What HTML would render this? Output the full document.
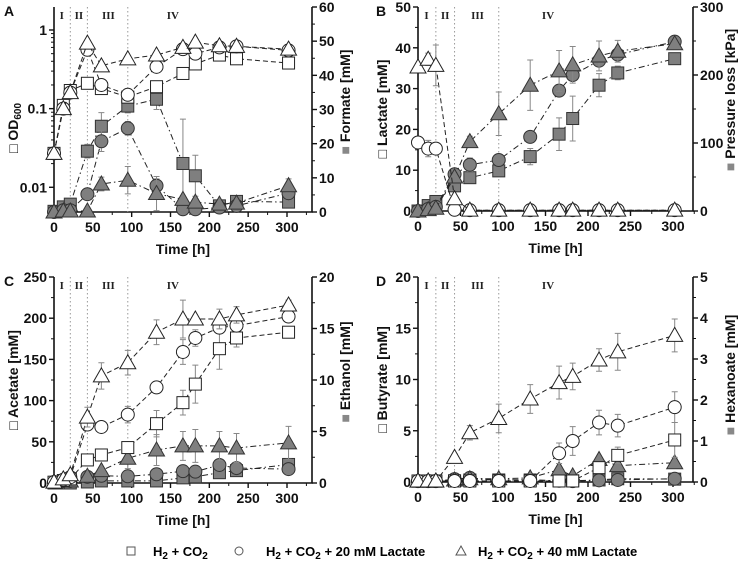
<!DOCTYPE html>
<html><head><meta charset="utf-8">
<style>
html,body{margin:0;padding:0;background:#fff;}
svg{display:block;font-family:"Liberation Sans",Arial,sans-serif;}
.tk{font-size:14px;font-weight:bold;fill:#111;}
.ttl{font-size:14px;font-weight:bold;fill:#111;}
.ph{font-family:"Liberation Serif",serif;font-size:11px;font-weight:bold;fill:#222;}
</style></head>
<body>
<svg id="fig" width="744" height="561" viewBox="0 0 744 561"></svg>
<script>
// ---- shared data ----
const times = [0,12,21,43,61,95,132,166,182,213,235,302];
const phaseBounds = [21,43,95];
const phaseLabels = ["I","II","III","IV"];
const phaseLabelTimes = [10,32,70,153];
const xTicks = [0,50,100,150,200,250,300];

// ---- Panel A: OD600 (log) and Formate ----
const aOdSq = [0.027,0.11,0.17,0.21,0.18,0.14,0.19,0.28,0.37,0.48,0.43,0.38];
const aOdCi = [0.027,0.10,0.16,0.56,0.20,0.15,0.34,0.57,0.50,0.60,0.62,0.55];
const aOdTr = [0.027,0.10,0.16,0.68,0.35,0.43,0.48,0.60,0.70,0.63,0.62,0.57];
const aFoSq = [0.2,1.5,2.3,17.8,25.1,31,33,14.2,10.6,1.8,3.1,2.9];
const aFoCi = [0,0.5,0.5,5.2,20.7,24.5,7.7,0.8,0.8,1.3,1.8,5.5];
const aFoTr = [0,0.3,0.3,0.3,8.2,9.3,5.4,3.7,2.9,2.3,2.6,7.7];
const aFoSqErr = [0,0.5,0.5,2,4,2,3,13,6,0.5,1,1];
const aFoCiErr = [0,0,0,1,3,2,2,0.3,0.3,0.5,0.5,1];
const aFoTrErr = [0,0,0,0,2,4,5,1,1,0.5,0.5,2];
const aTicksLeft = [0.01,0.1,1];
const aTicksRight = [0,10,20,30,40,50,60];

// ---- Panel B: Lactate and Pressure loss ----
const bLaCi = [16.8,15.3,15.3,0.3,0.2,0.2,0.2,0.2,0.2,0.2,0.2,0.2];
const bLaTr = [35.3,37.2,35.7,3,0.2,0.2,0.2,0.2,0.2,0.2,0.2,0.2];
const bLaTrErr = [0,1.5,5,0,0,0,0,0,0,0,0,0];
const bLaCiErr = [0,2,1,0,0,0,0,0,0,0,0,0];
const bPrSq = [0,8,14,37,49,59,80,113,136,185,203,224];
const bPrCi = [0,3,6,54,68,75,109,177,200,221,230,249];
const bPrTr = [0,2,4,50,102,143,185,206,215,228,235,246];
const bPrSqErr = [0,0,0,5,4,6,12,24,33,17,10,5];
const bPrCiErr = [0,0,0,5,10,8,8,4,5,8,6,3];
const bPrTrErr = [0,0,0,5,8,32,37,30,27,22,16,4];
const bTicksLeft = [0,10,20,30,40,50];
const bTicksRight = [0,100,200,300];

// ---- Panel C: Acetate and Ethanol ----
const cAcSq = [1,3,5,28,34,43,72,97.5,120,163,176,183];
const cAcCi = [1,4,7,71,68,83,116,159,176,188.5,191,202];
const cAcTr = [1,5,10,80,130,146,183,199,199,199,204,216];
const cAcSqErr = [0,0,0,4,5,6,16,15,23,25,11,4];
const cAcCiErr = [0,0,0,4,5,10,5,15,10,6,4,4];
const cAcTrErr = [0,0,0,12,16,15,15,23,4,12,10,6];
const cEtSq = [0,0,0,0.1,0.2,0.2,0.2,0.5,0.6,1.0,1.2,1.8];
const cEtCi = [0.1,0.2,0.2,0.6,0.7,0.65,0.85,1.15,1.1,1.75,1.45,1.35];
const cEtTr = [0.1,0.2,0.2,0.65,1.2,2.4,3.2,3.6,3.6,3.6,3.4,3.9];
const cEtTrErr = [0,0,0,0.2,0.3,1,1.5,1.4,1.6,1.4,1.4,1.6];
const cTicksLeft = [0,50,100,150,200,250];
const cTicksRight = [0,5,10,15,20];

// ---- Panel D: Butyrate and Hexanoate ----
const dBuSq = [0.1,0.1,0.1,0.1,0.1,0.1,0.1,0.1,0.1,1.4,2.6,4.1];
const dBuCi = [0.1,0.1,0.1,0.1,0.1,0.1,0.1,2.8,4.0,5.8,5.5,7.3];
const dBuTr = [0.1,0.1,0.1,2.4,4.8,6.2,8.1,9.7,10.3,11.9,12.7,14.3];
const dBuSqErr = [0,0,0,0,0,0,0,0,0,0.4,0.8,1.7];
const dBuCiErr = [0,0,0,0,0,0,0,1,1.4,1.2,1.1,1.5];
const dBuTrErr = [0,0,0,0.3,0.7,1.4,1.4,1.6,1.3,1.1,1.8,1.6];
const dHxSq = [0.02,0.02,0.02,0.03,0.05,0.05,0.05,0.03,0.03,0.05,0.08,0.07];
const dHxCi = [0.02,0.02,0.02,0.07,0.1,0.05,0.05,0.03,0.02,0.04,0.05,0.08];
const dHxTr = [0.02,0.02,0.02,0.05,0.08,0.08,0.1,0.3,0.15,0.55,0.4,0.47];
const dTicksLeft = [0,5,10,15,20];
const dTicksRight = [0,1,2,3,4,5];

const NS = "http://www.w3.org/2000/svg";
const svg = document.getElementById("fig");
function mk(tag, attrs, parent){
  const e = document.createElementNS(NS, tag);
  for (const k in attrs) e.setAttribute(k, attrs[k]);
  (parent||svg).appendChild(e);
  return e;
}

function marker(g, shape, x, y, filled){
  const fill = filled ? "#7f7f7f" : "#fff";
  const st = filled ? "#333" : "#222";
  let m;
  if (shape === "sq") {
    m = mk("rect", {x:x-6, y:y-6, width:12, height:12, fill:fill, stroke:st, "stroke-width":1}, g);
  } else if (shape === "ci") {
    m = mk("circle", {cx:x, cy:y, r:6.5, fill:fill, stroke:st, "stroke-width":1}, g);
  } else {
    m = mk("polygon", {points:(x-8)+","+(y+6)+" "+x+","+(y-8)+" "+(x+8)+","+(y+6), fill:fill, stroke:st, "stroke-width":1}, g);
  }
  return m;
}

function drawSeries(P, vals, errs, shape, side, filled, name){
  const g = mk("g", {});
  
  
  const ys = side === "L" ? P.yL : P.yR;
  let d = "";
  vals.forEach((v,i)=>{ d += (i?"L":"M") + P.x(times[i]).toFixed(1) + "," + ys(v).toFixed(1); });
  mk("path", {d:d, fill:"none", stroke:"#222", "stroke-width":1, "stroke-dasharray": filled ? "6,3,1.5,3" : "5,3"}, g);
  if (errs) errs.forEach((e,i)=>{
    if (!e) return;
    const x = P.x(times[i]), y1 = ys(vals[i]+e), y2 = ys(Math.max(vals[i]-e, P.side0[side]));
    mk("path", {d:`M${x},${y1}V${y2}M${x-3},${y1}H${x+3}M${x-3},${y2}H${x+3}`, stroke:"#888", "stroke-width":1, fill:"none"}, g);
  });
  vals.forEach((v,i)=>{
    const m = marker(g, shape, P.x(times[i]), ys(v), filled);
    
    
  });
}

function panel(cfg){
  const {x0,x1,axR,top,bot} = cfg;
  const P = {};
  P.x = t => x0 + (t/300)*(x1-x0);
  if (cfg.logL) {
    const lmin = Math.log10(cfg.lMin), lmax = Math.log10(cfg.lMax);
    P.yL = v => bot - (Math.log10(v)-lmin)/(lmax-lmin)*(bot-top);
  } else {
    P.yL = v => bot - (v-cfg.lMin)/(cfg.lMax-cfg.lMin)*(bot-top);
  }
  P.yR = v => bot - v/cfg.rMax*(bot-top);
  P.side0 = {L: cfg.logL ? cfg.lMin : 0, R: 0};
  const g = mk("g", {});
  
  
  const ax = mk("path", {d:`M${x0},${top}V${bot}H${axR}V${top}`, fill:"none", stroke:"#111", "stroke-width":1.6}, g);
  
  
  xTicks.forEach(t=>{
    const x = P.x(t);
    mk("line", {x1:x, y1:bot, x2:x, y2:bot+5, stroke:"#111", "stroke-width":1.4}, g);
    mk("line", {x1:P.x(t+25), y1:bot, x2:P.x(t+25), y2:bot+3, stroke:"#111", "stroke-width":1}, g);
    const tx = mk("text", {x:x, y:bot+20, "text-anchor":"middle", class:"tk"}, g);
    tx.textContent = t;
    
    
  });
  cfg.tL.forEach((v,i)=>{
    const y = P.yL(v);
    mk("line", {x1:x0-5, y1:y, x2:x0, y2:y, stroke:"#111", "stroke-width":1.4}, g);
    if (cfg.logL) {
      for (let k=2;k<10;k++){ const yy=P.yL(v*k); if (yy>top) mk("line",{x1:x0-3,y1:yy,x2:x0,y2:yy,stroke:"#111","stroke-width":1},g); }
    } else if (i < cfg.tL.length-1) {
      const yy = P.yL((v+cfg.tL[i+1])/2);
      mk("line",{x1:x0-3,y1:yy,x2:x0,y2:yy,stroke:"#111","stroke-width":1},g);
    }
    const tx = mk("text", {x:x0-7, y:y+5, "text-anchor":"end", class:"tk"}, g);
    tx.textContent = v;
    
    
  });
  if (cfg.logL) { const y=P.yL(0.005); mk("line",{x1:x0-3,y1:y,x2:x0,y2:y,stroke:"#111"},g); }
  cfg.tR.forEach((v,i)=>{
    const y = P.yR(v);
    mk("line", {x1:axR, y1:y, x2:axR+5, y2:y, stroke:"#111", "stroke-width":1.4}, g);
    if (i < cfg.tR.length-1) { const yy=P.yR((v+cfg.tR[i+1])/2); mk("line",{x1:axR,y1:yy,x2:axR+3,y2:yy,stroke:"#111","stroke-width":1},g); }
    const tx = mk("text", {x:axR+7, y:y+5, "text-anchor":"start", class:"tk"}, g);
    tx.textContent = v;
    
    
  });
  phaseBounds.forEach(t=>{
    const l = mk("line", {x1:P.x(t), y1:top, x2:P.x(t), y2:bot, stroke:"#999", "stroke-width":1, "stroke-dasharray":"1.5,2.5"}, g);
    
    
  });
  phaseLabels.forEach((s,i)=>{
    const tx = mk("text", {x:P.x(phaseLabelTimes[i]), y:top+12, "text-anchor":"middle", class:"ph"}, g);
    tx.textContent = s;
    
    
  });
  const pl = mk("text", {x:cfg.letX, y:top+9, class:"ttl", "font-size":"15"}, g);
  pl.textContent = cfg.letter;
  
  
  const xt = mk("text", {x:(x0+axR)/2, y:bot+42, "text-anchor":"middle", class:"ttl"}, g);
  xt.textContent = "Time [h]";
  
  
  const cy = (top+bot)/2;
  const lt = mk("text", {x:0, y:0, transform:`translate(${cfg.ltX},${cfg.ltY||cy}) rotate(-90)`, "text-anchor":"middle", class:"ttl", "font-size":"15"}, g);
  lt.innerHTML = cfg.lTitle;
  
  
  const rt = mk("text", {x:0, y:0, transform:`translate(${cfg.rtX},${cfg.rtY||cy}) rotate(-90)`, "text-anchor":"middle", class:"ttl", "font-size":"15"}, g);
  rt.innerHTML = cfg.rTitle;
  
  
  return P;
}
const sqGray = '<tspan fill="#888">■</tspan>';
const sqOpen = '<tspan font-weight="normal">□</tspan>';

let P = panel({name:"panel-a", letter:"A", letX:4, x0:54, x1:287, axR:312, top:7, bot:212, logL:true, lMin:0.00485, lMax:1.96, rMax:60,
  tL:aTicksLeft, tR:aTicksRight, ltX:18, ltY:128, rtX:350, rtY:102,
  lTitle: sqOpen+' OD<tspan font-size="10" dy="3">600</tspan>', rTitle: sqGray+'  Formate [mM]'});
drawSeries(P, aFoSq, aFoSqErr, "sq", "R", true, "formate-h2co2");
drawSeries(P, aFoCi, aFoCiErr, "ci", "R", true, "formate-20mm-lactate");
drawSeries(P, aFoTr, aFoTrErr, "tr", "R", true, "formate-40mm-lactate");
drawSeries(P, aOdSq, null, "sq", "L", false, "od-h2co2");
drawSeries(P, aOdCi, null, "ci", "L", false, "od-20mm-lactate");
drawSeries(P, aOdTr, null, "tr", "L", false, "od-40mm-lactate");

P = panel({name:"panel-b", letter:"B", letX:376, x0:418, x1:673, axR:693, top:7, bot:211, lMin:0, lMax:50, rMax:300,
  tL:bTicksLeft, tR:bTicksRight, ltX:387, rtX:735, rtY:100,
  lTitle: sqOpen+' Lactate [mM]', rTitle: sqGray+'  Pressure loss [kPa]'});
drawSeries(P, bPrSq, bPrSqErr, "sq", "R", true, "pressure-h2co2");
drawSeries(P, bPrCi, bPrCiErr, "ci", "R", true, "pressure-20mm-lactate");
drawSeries(P, bPrTr, bPrTrErr, "tr", "R", true, "pressure-40mm-lactate");
drawSeries(P, bLaCi, bLaCiErr, "ci", "L", false, "lactate-20mm-lactate");
drawSeries(P, bLaTr, bLaTrErr, "tr", "L", false, "lactate-40mm-lactate");

P = panel({name:"panel-c", letter:"C", letX:4, x0:54, x1:287, axR:312, top:277, bot:483, lMin:0, lMax:250, rMax:20,
  tL:cTicksLeft, tR:cTicksRight, ltX:18, rtX:350, rtY:372,
  lTitle: sqOpen+' Acetate [mM]', rTitle: sqGray+'  Ethanol [mM]'});
drawSeries(P, cEtSq, null, "sq", "R", true, "ethanol-h2co2");
drawSeries(P, cEtCi, null, "ci", "R", true, "ethanol-20mm-lactate");
drawSeries(P, cEtTr, cEtTrErr, "tr", "R", true, "ethanol-40mm-lactate");
drawSeries(P, cAcSq, cAcSqErr, "sq", "L", false, "acetate-h2co2");
drawSeries(P, cAcCi, cAcCiErr, "ci", "L", false, "acetate-20mm-lactate");
drawSeries(P, cAcTr, cAcTrErr, "tr", "L", false, "acetate-40mm-lactate");

P = panel({name:"panel-d", letter:"D", letX:376, x0:418, x1:673, axR:693, top:277, bot:482, lMin:0, lMax:20, rMax:5,
  tL:dTicksLeft, tR:dTicksRight, ltX:387, rtX:735, rtY:375,
  lTitle: sqOpen+' Butyrate [mM]', rTitle: sqGray+'  Hexanoate [mM]'});
drawSeries(P, dHxSq, null, "sq", "R", true, "hexanoate-h2co2");
drawSeries(P, dHxCi, null, "ci", "R", true, "hexanoate-20mm-lactate");
drawSeries(P, dHxTr, null, "tr", "R", true, "hexanoate-40mm-lactate");
drawSeries(P, dBuSq, dBuSqErr, "sq", "L", false, "butyrate-h2co2");
drawSeries(P, dBuCi, dBuCiErr, "ci", "L", false, "butyrate-20mm-lactate");
drawSeries(P, dBuTr, dBuTrErr, "tr", "L", false, "butyrate-40mm-lactate");
</script>
<svg width="744" height="561" style="position:absolute;left:0;top:0">
  <g>
    <rect x="127" y="547" width="8" height="8" fill="#fff" stroke="#555"/>
    <text x="153" y="556" font-family="Liberation Sans, sans-serif" font-size="13" font-weight="bold">H<tspan font-size="10" dy="3">2</tspan><tspan dy="-3"> + CO</tspan><tspan font-size="10" dy="3">2</tspan></text>
  </g>
  <g>
    <circle cx="239" cy="551" r="4" fill="#fff" stroke="#555"/>
    <text x="266" y="556" font-family="Liberation Sans, sans-serif" font-size="13" font-weight="bold">H<tspan font-size="10" dy="3">2</tspan><tspan dy="-3"> + CO</tspan><tspan font-size="10" dy="3">2</tspan><tspan dy="-3"> + 20 mM Lactate</tspan></text>
  </g>
  <g>
    <polygon points="456,555 461,546 466,555" fill="#fff" stroke="#555"/>
    <text x="478" y="556" font-family="Liberation Sans, sans-serif" font-size="13" font-weight="bold">H<tspan font-size="10" dy="3">2</tspan><tspan dy="-3"> + CO</tspan><tspan font-size="10" dy="3">2</tspan><tspan dy="-3"> + 40 mM Lactate</tspan></text>
  </g>
</svg>
</body></html>
